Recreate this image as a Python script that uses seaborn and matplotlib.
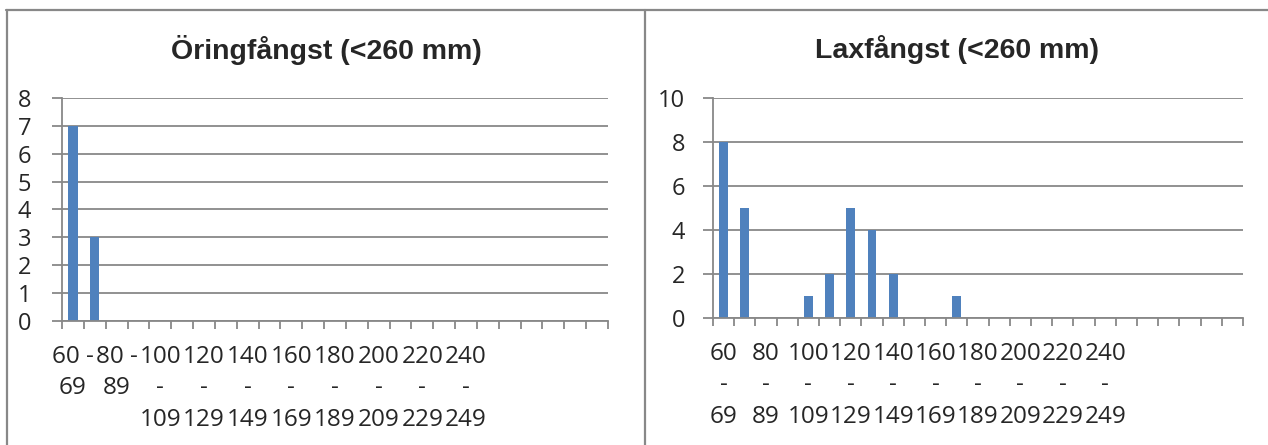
import numpy as np
import seaborn as sns
import matplotlib.pyplot as plt
from matplotlib.lines import Line2D

# length classes (mm), 25 category slots on the axis, the last 5 are empty
klasser = ["60 - 69", "70 - 79", "80 - 89", "90 - 99", "100 - 109", "110 - 119",
           "120 - 129", "130 - 139", "140 - 149", "150 - 159", "160 - 169",
           "170 - 179", "180 - 189", "190 - 199", "200 - 209", "210 - 219",
           "220 - 229", "230 - 239", "240 - 249", "250 - 259", "", "", "", "", ""]

oring = [7, 3, 0, 0, 0, 0, 0, 0, 0, 0, 0, 0, 0, 0, 0, 0, 0, 0, 0, 0, 0, 0, 0, 0, 0]
lax = [8, 5, 0, 0, 1, 2, 5, 4, 2, 0, 0, 1, 0, 0, 0, 0, 0, 0, 0, 0, 0, 0, 0, 0, 0]

oring_yticks = [0, 1, 2, 3, 4, 5, 6, 7, 8]
lax_yticks = [0, 2, 4, 6, 8, 10]

BLUE = "#4F81BD"
GREY = "#888888"

sns.set_theme(style="white")
plt.rcParams['font.family'] = ['Open Sans', 'DejaVu Sans']

W, H = 1268, 445
fig = plt.figure(figsize=(W / 100, H / 100), dpi=100)


def px_axes(x0, x1, y0, y1):
    return fig.add_axes([x0 / W, 1 - y1 / H, (x1 - x0) / W, (y1 - y0) / H])


def wrap_left(lbl):
    lo, hi = lbl.split(" - ")
    if len(lo) == 2:
        return lo + " -\n" + hi
    return lo + "\n-\n" + hi


def wrap_right(lbl):
    lo, hi = lbl.split(" - ")
    return lo + "\n-\n" + hi


def histo(ax, vals, yticks, wrap, ypad):
    pos = list(range(len(klasser)))
    sns.barplot(x=pos, y=vals, color=BLUE, width=0.42, saturation=1,
                linewidth=0, ax=ax)
    ax.set_xlim(-0.5, len(klasser) - 0.5)
    ax.set_ylim(0, yticks[-1])
    ax.set_yticks(yticks)
    ax.yaxis.grid(True, color=GREY, linewidth=1.3)
    ax.set_axisbelow(True)
    for s in ["top", "right"]:
        ax.spines[s].set_visible(False)
    for s in ["left", "bottom"]:
        ax.spines[s].set_color(GREY)
        ax.spines[s].set_linewidth(1.3)
    # labels on every other class, as in the original
    shown = [i for i in range(0, len(klasser), 2) if klasser[i]]
    ax.set_xticks(shown)
    ax.set_xticklabels([wrap(klasser[i]) for i in shown], linespacing=1.42)
    ax.set_xticks(np.arange(-0.5, len(klasser), 1), minor=True)
    ax.tick_params(axis="x", which="major", length=0, pad=17, labelsize=17.5)
    ax.tick_params(axis="x", which="minor", length=6, width=1.3, color=GREY,
                   direction="out", bottom=True)
    ax.tick_params(axis="y", length=7, width=1.3, color=GREY, direction="out",
                   left=True, pad=ypad, labelsize=17)
    ax.set_xlabel("")
    ax.set_ylabel("")


ax1 = px_axes(62, 608, 98, 321)
histo(ax1, oring, oring_yticks, wrap_left, 15)
ax2 = px_axes(713, 1243, 98, 318)
histo(ax2, lax, lax_yticks, wrap_right, 13)

fig.text(326 / W, 1 - 50 / H, "Öringfångst (<260 mm)", ha="center", va="center",
         fontsize=20.5, fontweight="bold", family=["Liberation Sans", "DejaVu Sans"])
fig.text(957 / W, 1 - 50 / H, "Laxfångst (<260 mm)", ha="center", va="center",
         fontsize=20.5, fontweight="bold", family=["Liberation Sans", "DejaVu Sans"])

# chart frames
for xs, ys in [([6, W], [10, 10]), ([7, 7], [10, H]), ([645, 645], [10, H])]:
    fig.add_artist(Line2D([x / W for x in xs], [1 - y / H for y in ys],
                          color=GREY, linewidth=1.6, transform=fig.transFigure))

fig.savefig("out.png", dpi=100)
